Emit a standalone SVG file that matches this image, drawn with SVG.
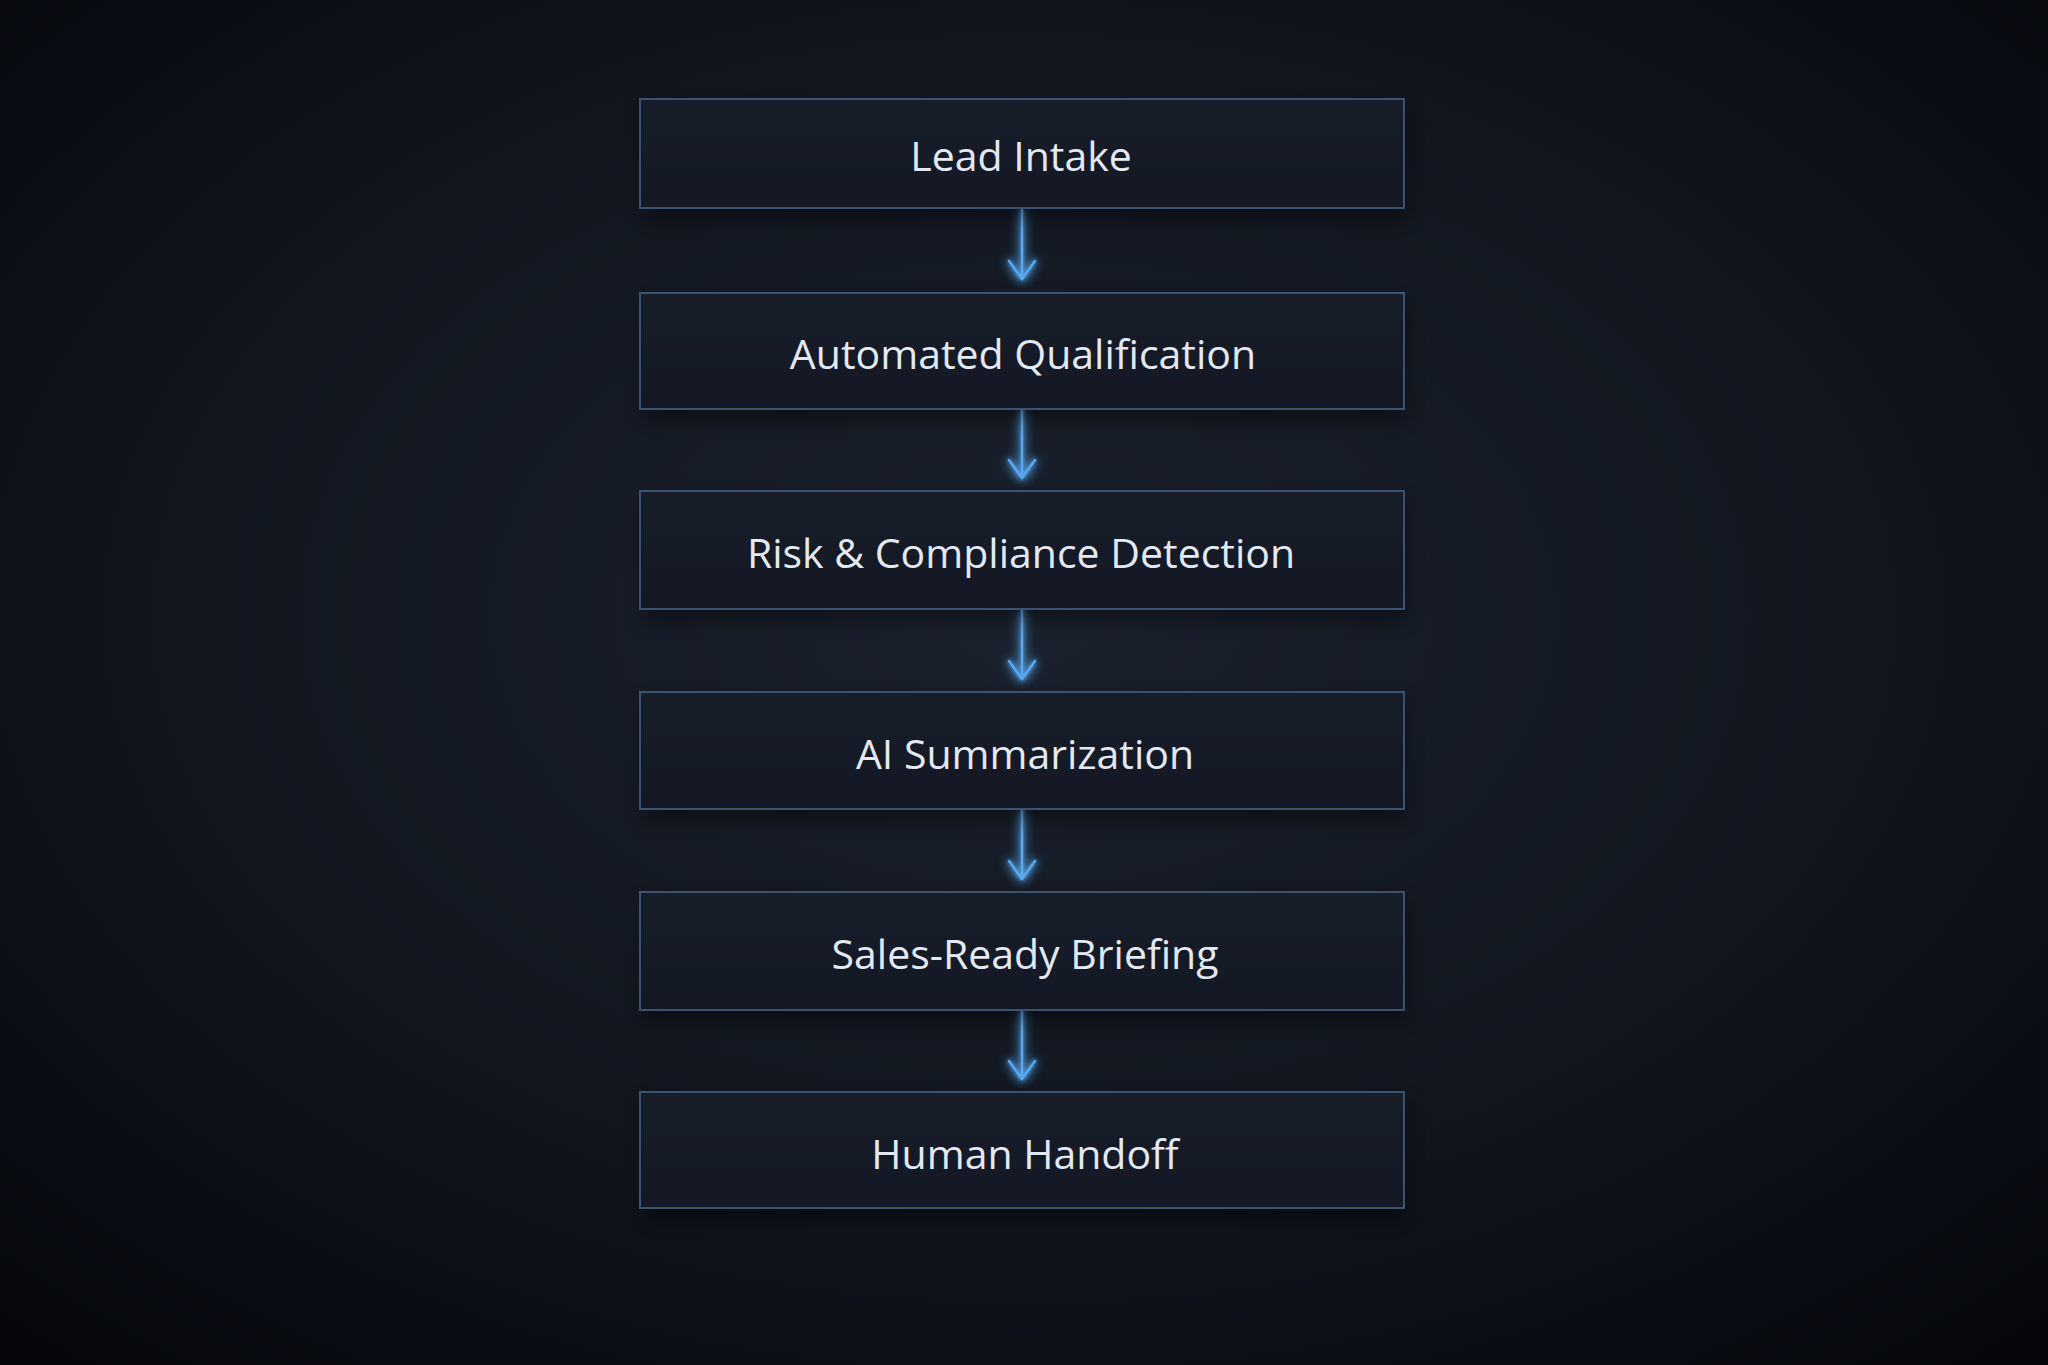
<svg xmlns="http://www.w3.org/2000/svg" width="2048" height="1365" viewBox="0 0 2048 1365">
<defs>
<radialGradient id="bg" cx="0.5" cy="0.45" r="0.75">
<stop offset="0" stop-color="#1b212d"/>
<stop offset="0.55" stop-color="#11161f"/>
<stop offset="1" stop-color="#04060a"/>
</radialGradient>
<linearGradient id="boxfill" x1="0" y1="0" x2="0" y2="1">
<stop offset="0" stop-color="#171d29"/>
<stop offset="1" stop-color="#131824"/>
</linearGradient>
<linearGradient id="edge" x1="0" y1="0" x2="1" y2="0">
<stop offset="0" stop-color="#3b587c" stop-opacity="0.6"/>
<stop offset="0.5" stop-color="#6a9acc"/>
<stop offset="1" stop-color="#3b587c" stop-opacity="0.6"/>
</linearGradient>
<filter id="glow" filterUnits="userSpaceOnUse" x="0" y="0" width="2048" height="1365">
<feGaussianBlur in="SourceGraphic" stdDeviation="6" result="b1"/>
<feGaussianBlur in="SourceGraphic" stdDeviation="2" result="b2"/>
<feMerge><feMergeNode in="b1"/><feMergeNode in="b1"/><feMergeNode in="b2"/><feMergeNode in="SourceGraphic"/></feMerge>
</filter>
<filter id="shadow" x="-10%" y="-30%" width="120%" height="160%">
<feGaussianBlur stdDeviation="10"/>
</filter>
<marker id="arrow" viewBox="0 0 22 30" refX="20" refY="15" markerWidth="22" markerHeight="30" markerUnits="userSpaceOnUse" orient="auto">
<path d="M2 2 L20 15 L2 28" fill="none" stroke="#5aa8f0" stroke-width="2.4" stroke-linecap="round" stroke-linejoin="round"/>
</marker>
<style>
.box{fill:url(#boxfill);stroke:#3c5270;stroke-width:2}
.hl{stroke:url(#edge);stroke-width:2.5;fill:none}
.sh{fill:#000;opacity:0.45}
.lbl{font-family:"Open Sans","Noto Sans","DejaVu Sans",sans-serif;font-size:41px;fill:#e2e9f2;text-anchor:middle;dominant-baseline:central}
.conn{stroke:#5aa8f0;stroke-width:2.4;fill:none}
</style>
</defs>
<rect width="2048" height="1365" fill="url(#bg)"/>
<g id="connectors" filter="url(#glow)">
<line class="conn" x1="1022" y1="209" x2="1022" y2="279" marker-end="url(#arrow)"/>
<line class="conn" x1="1022" y1="410" x2="1022" y2="478" marker-end="url(#arrow)"/>
<line class="conn" x1="1022" y1="610" x2="1022" y2="679" marker-end="url(#arrow)"/>
<line class="conn" x1="1022" y1="810" x2="1022" y2="879" marker-end="url(#arrow)"/>
<line class="conn" x1="1022" y1="1011" x2="1022" y2="1079" marker-end="url(#arrow)"/>
</g>
<g id="node-lead-intake">
<rect class="sh" x="645" y="108" width="760" height="110" filter="url(#shadow)"/>
<rect class="box" x="640" y="99" width="764" height="109"/>
<line class="hl" x1="640" y1="99" x2="1404" y2="99"/>
<line class="hl" x1="640" y1="208" x2="1404" y2="208"/>
<text class="lbl" x="1021" y="155">Lead Intake</text>
</g>
<g id="node-automated-qualification">
<rect class="sh" x="645" y="302" width="760" height="117" filter="url(#shadow)"/>
<rect class="box" x="640" y="293" width="764" height="116"/>
<line class="hl" x1="640" y1="293" x2="1404" y2="293"/>
<line class="hl" x1="640" y1="409" x2="1404" y2="409"/>
<text class="lbl" x="1023" y="353">Automated Qualification</text>
</g>
<g id="node-risk-compliance">
<rect class="sh" x="645" y="500" width="760" height="119" filter="url(#shadow)"/>
<rect class="box" x="640" y="491" width="764" height="118"/>
<line class="hl" x1="640" y1="491" x2="1404" y2="491"/>
<line class="hl" x1="640" y1="609" x2="1404" y2="609"/>
<text class="lbl" x="1021" y="552">Risk &amp; Compliance Detection</text>
</g>
<g id="node-ai-summarization">
<rect class="sh" x="645" y="701" width="760" height="118" filter="url(#shadow)"/>
<rect class="box" x="640" y="692" width="764" height="117"/>
<line class="hl" x1="640" y1="692" x2="1404" y2="692"/>
<line class="hl" x1="640" y1="809" x2="1404" y2="809"/>
<text class="lbl" x="1025" y="753">AI Summarization</text>
</g>
<g id="node-sales-ready-briefing">
<rect class="sh" x="645" y="901" width="760" height="119" filter="url(#shadow)"/>
<rect class="box" x="640" y="892" width="764" height="118"/>
<line class="hl" x1="640" y1="892" x2="1404" y2="892"/>
<line class="hl" x1="640" y1="1010" x2="1404" y2="1010"/>
<text class="lbl" x="1025" y="953">Sales-Ready Briefing</text>
</g>
<g id="node-human-handoff">
<rect class="sh" x="645" y="1101" width="760" height="117" filter="url(#shadow)"/>
<rect class="box" x="640" y="1092" width="764" height="116"/>
<line class="hl" x1="640" y1="1092" x2="1404" y2="1092"/>
<line class="hl" x1="640" y1="1208" x2="1404" y2="1208"/>
<text class="lbl" x="1025" y="1153">Human Handoff</text>
</g>
</svg>
